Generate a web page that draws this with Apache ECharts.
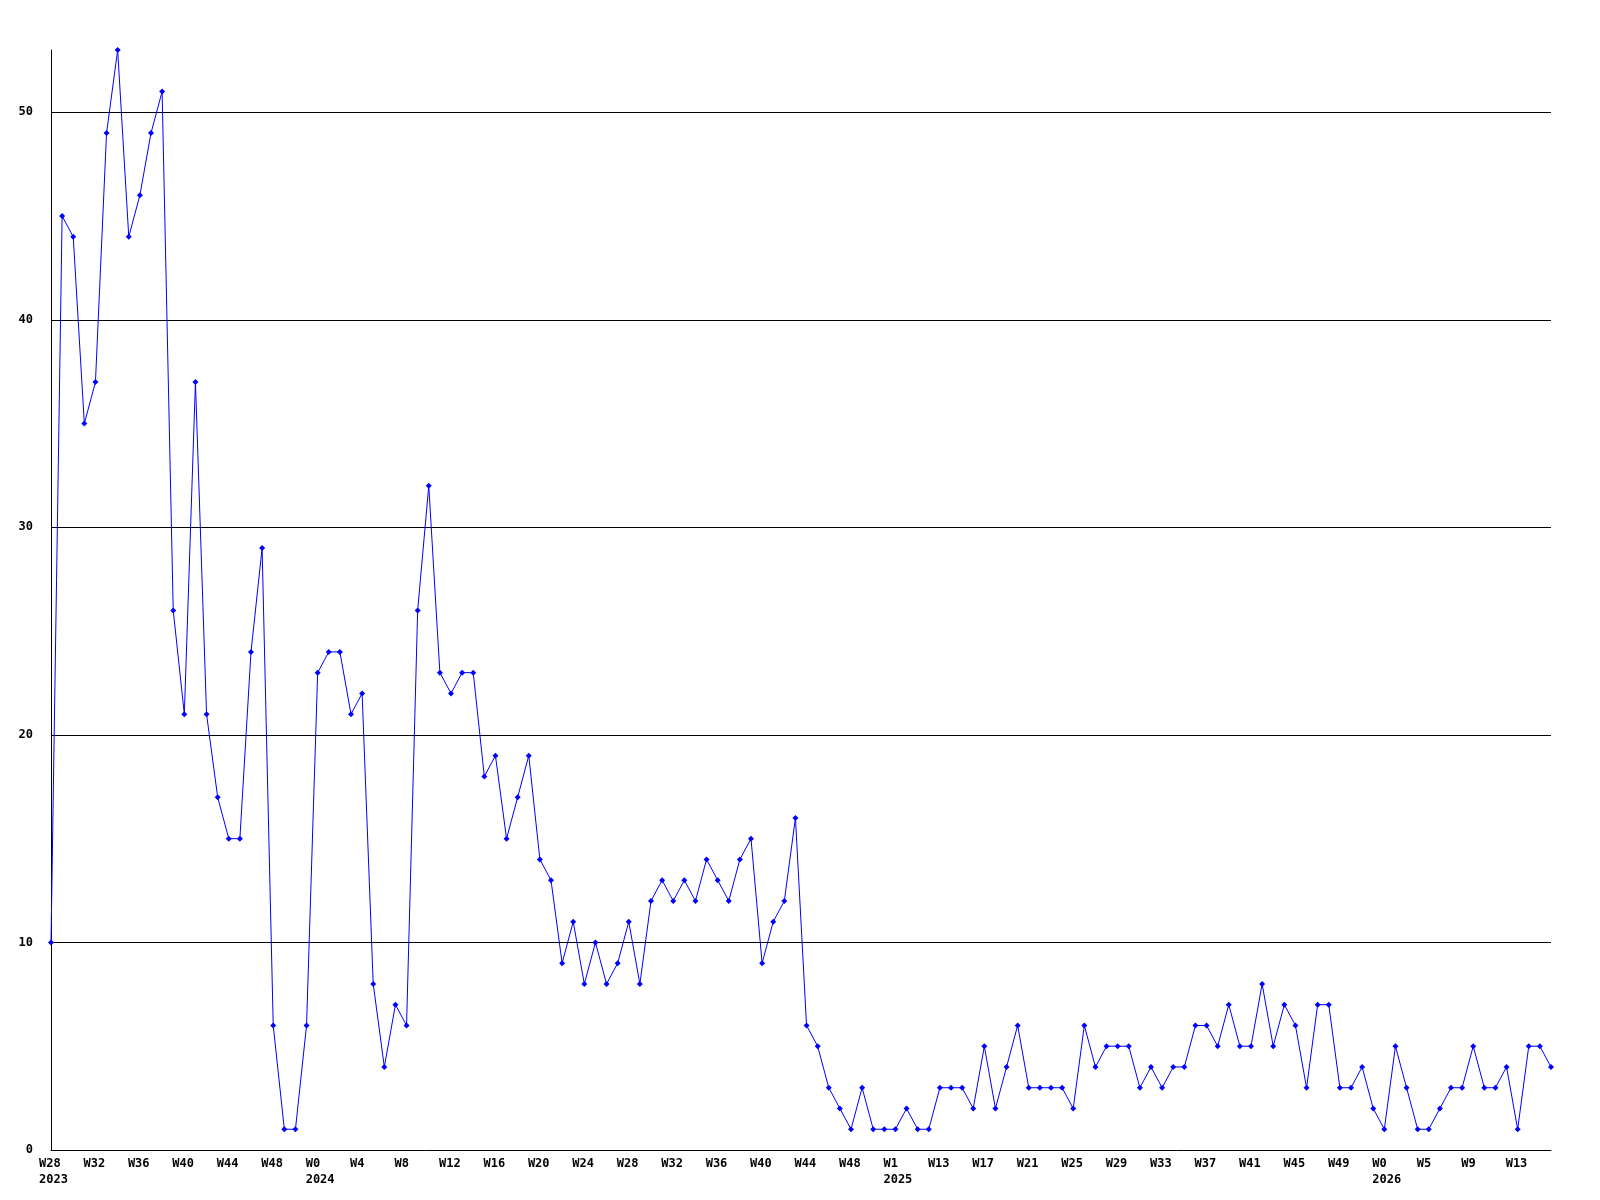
<!DOCTYPE html>
<html>
<head>
<meta charset="utf-8">
<script src="https://cdn.jsdelivr.net/npm/echarts@6/dist/echarts.min.js"></script>
<style>
  html, body { margin: 0; padding: 0; background: #ffffff; }
  #chart { width: 1600px; height: 1200px; }
</style>
</head>
<body>
<div id="chart"></div>
<script>
// Weekly values, W28 2023 onwards (one point per week)
const values = [
  10, 45, 44, 35, 37, 49, 53, 44, 46, 49, 51, 26, 21, 37, 21, 17, 15, 15, 24, 29,
  6, 1, 1, 6, 23, 24, 24, 21, 22, 8, 4, 7, 6, 26, 32, 23, 22, 23, 23, 18,
  19, 15, 17, 19, 14, 13, 9, 11, 8, 10, 8, 9, 11, 8, 12, 13, 12, 13, 12, 14,
  13, 12, 14, 15, 9, 11, 12, 16, 6, 5, 3, 2, 1, 3, 1, 1, 1, 2, 1, 1,
  3, 3, 3, 2, 5, 2, 4, 6, 3, 3, 3, 3, 2, 6, 4, 5, 5, 5, 3, 4,
  3, 4, 4, 6, 6, 5, 7, 5, 5, 8, 5, 7, 6, 3, 7, 7, 3, 3, 4, 2,
  1, 5, 3, 1, 1, 2, 3, 3, 5, 3, 3, 4, 1, 5, 5, 4
];

// Tick labels shown every 4th week
const tickLabels = [
  'W28', 'W32', 'W36', 'W40', 'W44', 'W48', 'W0', 'W4', 'W8', 'W12', 'W16', 'W20',
  'W24', 'W28', 'W32', 'W36', 'W40', 'W44', 'W48', 'W1', 'W13', 'W17', 'W21', 'W25',
  'W29', 'W33', 'W37', 'W41', 'W45', 'W49', 'W0', 'W5', 'W9', 'W13'
];
// Year labels, keyed by tick-label position
const yearLabels = { 0: '2023', 6: '2024', 19: '2025', 30: '2026' };

const categories = values.map((v, i) => String(i));

const chart = echarts.init(document.getElementById('chart'), null, { renderer: 'canvas' });

const FONT = '"DejaVu Sans Mono", "Liberation Mono", monospace';

chart.setOption({
  backgroundColor: '#ffffff',
  animation: false,
  grid: { left: 51, right: 49, top: 50, bottom: 50, containLabel: false },
  xAxis: {
    type: 'category',
    data: categories,
    boundaryGap: false,
    axisLine: { show: true, lineStyle: { color: '#000000', width: 1 } },
    axisTick: { show: false },
    splitLine: { show: false },
    axisLabel: {
      interval: (i) => i % 4 === 0,
      margin: 6,
      color: '#000000',
      fontFamily: FONT,
      fontWeight: 'bold',
      fontSize: 12,
      lineHeight: 16,
      formatter: (val, idx) => {
        const i = Number(val);
        if (i % 4 !== 0) return '';
        const k = i / 4;
        const t = tickLabels[k] || '';
        const y = yearLabels[k];
        return y ? '{t|' + t + '}\n{t|' + y + '}' : '{t|' + t + '}';
      },
      rich: {
        t: { width: 24, align: 'left', color: '#000000', fontFamily: FONT, fontWeight: 'bold', fontSize: 12, lineHeight: 16 }
      }
    }
  },
  yAxis: {
    type: 'value',
    min: 0,
    max: 53,
    interval: 10,
    axisLine: { show: true, lineStyle: { color: '#000000', width: 1 } },
    axisTick: { show: false },
    splitLine: { show: true, showMinLine: false, showMaxLine: false, lineStyle: { color: '#000000', width: 1 } },
    axisLabel: {
      showMaxLabel: false,
      margin: 18,
      color: '#000000',
      fontFamily: FONT,
      fontWeight: 'bold',
      fontSize: 12
    }
  },
  series: [{
    type: 'line',
    data: values,
    symbol: 'diamond',
    symbolSize: 6,
    showSymbol: true,
    lineStyle: { color: '#0000ff', width: 1 },
    itemStyle: { color: '#0000ff' },
    clip: false
  }]
});
</script>
</body>
</html>
